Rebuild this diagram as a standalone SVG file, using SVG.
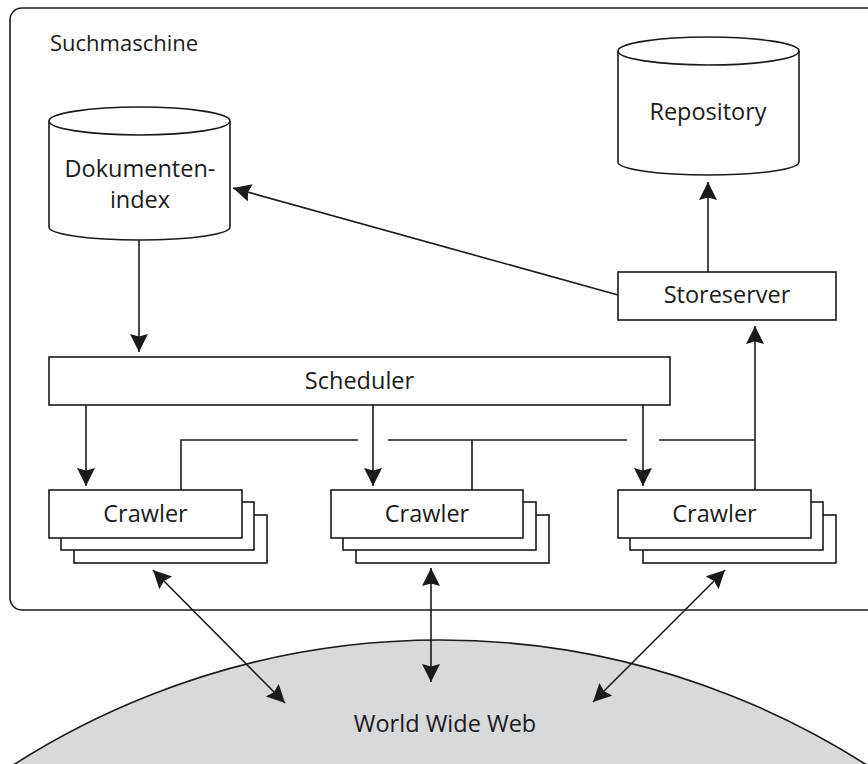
<svg xmlns="http://www.w3.org/2000/svg" width="868" height="764" viewBox="0 0 868 764">
  <style>
    .box { fill: #ffffff; stroke: #1a1a1a; stroke-width: 1.6; }
    .line { fill: none; stroke: #1a1a1a; stroke-width: 1.6; }
    .lbl { font-family: "Open Sans", "DejaVu Sans", sans-serif; font-size: 23.5px; fill: #1a1a1a; text-anchor: middle; }
    .title { font-family: "Open Sans", "DejaVu Sans", sans-serif; font-size: 22px; fill: #1a1a1a; }
  </style>
  <defs>
    <marker id="arrow" markerUnits="userSpaceOnUse" markerWidth="20" markerHeight="20" viewBox="0 0 20 20" refX="18" refY="9" orient="auto-start-reverse">
      <path d="M0,0 L18,9 L0,18 L2.5,9 Z" fill="#1a1a1a"/>
    </marker>
  </defs>

  <!-- World Wide Web -->
  <g id="www">
    <circle cx="440" cy="1430" r="790" fill="#d8d9db" stroke="#1a1a1a" stroke-width="1.6"/>
    <text class="lbl" x="445" y="732" font-size="24">World Wide Web</text>
  </g>

  <!-- search engine frame -->
  <g id="suchmaschine">
    <rect x="10" y="8" width="870" height="602" rx="12" ry="12" fill="none" stroke="#1a1a1a" stroke-width="1.6"/>
    <text class="title" x="50" y="51">Suchmaschine</text>
  </g>

  <!-- connectors -->
  <g id="connectors">
    <line class="line" x1="139" y1="240" x2="139" y2="352" marker-end="url(#arrow)"/>
    <line class="line" x1="618" y1="295" x2="233" y2="188" marker-end="url(#arrow)"/>
    <line class="line" x1="708" y1="272" x2="708" y2="182" marker-end="url(#arrow)"/>
    <line class="line" x1="86" y1="405" x2="86" y2="486" marker-end="url(#arrow)"/>
    <line class="line" x1="373" y1="405" x2="373" y2="486" marker-end="url(#arrow)"/>
    <line class="line" x1="643" y1="405" x2="643" y2="486" marker-end="url(#arrow)"/>
    <path class="line" d="M181,490 V440 H358 M388,440 H627 M659,440 H755 M472,440 V490"/>
    <line class="line" x1="755" y1="490" x2="755" y2="326" marker-end="url(#arrow)"/>
    <line class="line" x1="153" y1="570" x2="285" y2="703" marker-start="url(#arrow)" marker-end="url(#arrow)"/>
    <line class="line" x1="431" y1="568" x2="431" y2="682" marker-start="url(#arrow)" marker-end="url(#arrow)"/>
    <line class="line" x1="725" y1="570" x2="593" y2="702" marker-start="url(#arrow)" marker-end="url(#arrow)"/>
  </g>

  <!-- Dokumentenindex cylinder -->
  <g id="dokumentenindex">
    <path class="box" d="M49,121 A90.5,14 0 0 1 230,121 V227 A90.5,13 0 0 1 49,227 Z"/>
    <path class="line" d="M49,121 A90.5,14 0 0 0 230,121"/>
    <text class="lbl" x="140" y="177">Dokumenten-</text>
    <text class="lbl" x="140" y="208">index</text>
  </g>

  <!-- Repository cylinder -->
  <g id="repository">
    <path class="box" d="M618,51 A90.5,14 0 0 1 799,51 V162 A90.5,13 0 0 1 618,162 Z"/>
    <path class="line" d="M618,51 A90.5,14 0 0 0 799,51"/>
    <text class="lbl" x="708" y="120">Repository</text>
  </g>

  <g id="storeserver">
    <rect class="box" x="618" y="272" width="218" height="48"/>
    <text class="lbl" x="727" y="303">Storeserver</text>
  </g>

  <g id="scheduler">
    <rect class="box" x="49" y="357" width="621" height="48"/>
    <text class="lbl" x="359.5" y="389">Scheduler</text>
  </g>

  <g id="crawler1">
    <rect class="box" x="74" y="515" width="193" height="48"/>
    <rect class="box" x="61" y="502" width="193" height="48"/>
    <rect class="box" x="49" y="490" width="193" height="48"/>
    <text class="lbl" x="145.5" y="522">Crawler</text>
  </g>

  <g id="crawler2">
    <rect class="box" x="356" y="515" width="193" height="48"/>
    <rect class="box" x="343" y="502" width="193" height="48"/>
    <rect class="box" x="331" y="490" width="192" height="48"/>
    <text class="lbl" x="427" y="522">Crawler</text>
  </g>

  <g id="crawler3">
    <rect class="box" x="643" y="515" width="193" height="48"/>
    <rect class="box" x="630" y="502" width="193" height="48"/>
    <rect class="box" x="618" y="490" width="193" height="48"/>
    <text class="lbl" x="714.5" y="522">Crawler</text>
  </g>
</svg>
